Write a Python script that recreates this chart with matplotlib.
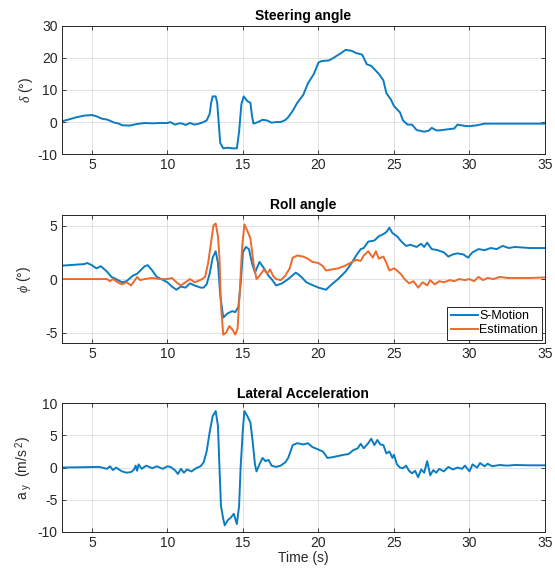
import numpy as np
import matplotlib
matplotlib.use("Agg")
import matplotlib.pyplot as plt

# ---- Steering angle ----
t_delta = [3, 4, 4.5, 5, 5.3, 5.7, 6, 6.5, 6.8, 7, 7.5, 8, 8.5, 9, 9.5, 10, 10.2, 10.5, 10.8, 11, 11.2,
           11.5, 11.8, 12, 12.3, 12.6, 12.8, 12.9, 13.0, 13.2, 13.3, 13.5, 13.7, 14.0, 14.3, 14.6, 14.75,
           14.9, 15.05, 15.3, 15.5, 15.6, 15.7, 16.0, 16.3, 16.6, 16.9, 17.2, 17.5, 17.8, 18.0, 18.3,
           18.6, 19.0, 19.3, 19.7, 20.0, 20.2, 20.7, 21.0, 21.5, 21.8, 22.2, 22.5, 22.9, 23.2, 23.5,
           24.0, 24.3, 24.5, 24.8, 25.0, 25.4, 25.6, 25.9, 26.2, 26.5, 27.0, 27.3, 27.5, 27.8, 28.0,
           28.5, 29.0, 29.2, 29.7, 30.0, 30.5, 31.0, 35]
delta = [0.2, 1.5, 2.0, 2.2, 1.8, 1.0, 0.8, -0.2, -0.5, -1.0, -1.1, -0.6, -0.3, -0.4, -0.3, -0.3, 0.0,
         -0.8, -0.4, -0.5, -0.9, -0.3, -0.8, -0.6, -0.2, 0.5, 2.5, 6.0, 8.0, 8.0, 6.0, -6.5, -8.2, -8.0,
         -8.2, -8.2, -3.0, 5.5, 8.0, 6.5, 6.0, 2.0, -0.5, 0.0, 0.7, 0.5, -0.2, 0.0, 0.0, 0.6, 1.5, 3.5,
         6.0, 8.5, 12.0, 15.0, 18.5, 19.0, 19.2, 20.0, 21.5, 22.5, 22.2, 21.5, 21.0, 18.0, 17.5, 15.0,
         13.0, 9.0, 7.0, 5.0, 3.0, 0.5, -0.8, -0.8, -2.5, -3.0, -2.7, -1.8, -2.6, -2.6, -2.3, -2.0,
         -0.8, -1.2, -1.3, -1.0, -0.5, -0.5]

# ---- Roll angle ----
t_roll_s = [3, 4.5, 4.7, 5, 5.3, 5.6, 6, 6.3, 6.6, 7, 7.3, 7.7, 8, 8.5, 8.7, 9, 9.3, 9.6, 10, 10.3, 10.6,
            10.9, 11.2, 11.5, 11.8, 12.2, 12.4, 12.6, 12.8, 13.0, 13.2, 13.35, 13.5, 13.7, 14.0, 14.3,
            14.5, 14.7, 14.85, 15.0, 15.2, 15.4, 15.6, 15.8, 16.1, 16.4, 16.7, 16.9, 17.2, 17.6, 18.0,
            18.5, 18.8, 19.2, 19.5, 20.0, 20.5, 20.8, 21.3, 21.8, 22.2, 22.5, 22.8, 23.0, 23.3, 23.7,
            24.0, 24.3, 24.5, 24.7, 24.9, 25.2, 25.5, 25.8, 26.1, 26.5, 26.8, 27.0, 27.2, 27.5, 27.9,
            28.3, 28.6, 28.9, 29.2, 29.6, 29.9, 30.2, 30.6, 31.0, 31.4, 31.8, 32.2, 32.6, 33, 34, 35]
roll_smotion = [1.25, 1.4, 1.5, 1.3, 1.0, 1.2, 0.7, 0.2, 0.0, -0.3, -0.2, 0.3, 0.5, 1.2, 1.3, 0.8,
                0.2, 0.0, -0.3, -0.7, -1.0, -0.7, -0.8, -0.4, -0.6, -0.8, -0.8, -0.5, 0.5, 2.0, 2.6,
                1.5, -1.5, -3.6, -3.2, -3.0, -3.1, -2.6, -0.5, 2.5, 3.0, 2.8, 1.5, 0.6, 1.6, 1.0, 0.3,
                0.0, -0.6, -0.4, 0.0, 0.6, 0.3, -0.3, -0.5, -0.8, -1.0, -0.6, 0.0, 0.7, 1.5, 2.2, 2.8,
                2.9, 3.5, 3.6, 4.0, 4.2, 4.4, 4.8, 4.3, 4.0, 3.5, 3.1, 3.2, 3.0, 3.3, 3.0, 3.4, 2.8,
                2.7, 2.5, 2.1, 2.3, 2.4, 2.3, 2.0, 2.5, 2.8, 2.7, 2.9, 2.8, 3.1, 2.9, 3.0, 2.9, 2.9]

t_roll_e = [3, 6, 6.2, 6.4, 6.7, 7, 7.3, 7.6, 7.8, 8, 8.2, 8.5, 9, 9.5, 10, 10.3, 10.6, 10.9, 11.2, 11.5,
            11.8, 12.0, 12.3, 12.5, 12.7, 12.9, 13.05, 13.2, 13.35, 13.45, 13.55, 13.7, 13.9, 14.1,
            14.3, 14.5, 14.65, 14.8, 14.95, 15.1, 15.3, 15.5, 15.7, 15.9, 16.1, 16.4, 16.6, 16.8, 17.0,
            17.2, 17.5, 17.8, 18.1, 18.3, 18.6, 19.0, 19.3, 19.6, 20.0, 20.3, 20.5, 20.9, 21.3, 21.7,
            22.1, 22.5, 22.8, 23.0, 23.3, 23.6, 23.8, 24.0, 24.3, 24.5, 24.7, 25.0, 25.2, 25.5, 25.7,
            26.0, 26.3, 26.6, 26.9, 27.2, 27.4, 27.7, 28.0, 28.3, 28.7, 29.0, 29.3, 29.7, 30.0, 30.3,
            30.6, 30.9, 31.2, 31.6, 32.0, 32.5, 33, 34, 35]
roll_est = [0.0, 0.0, -0.2, 0.0, -0.3, -0.5, -0.3, -0.6, -0.2, 0.2, -0.1, 0.0, 0.1, 0.0, 0.0, 0.1,
            -0.3, -0.6, -0.3, 0.0, -0.3, -0.2, 0.0, 0.2, 1.5, 3.5, 5.0, 5.2, 4.0, 2.0, -2.5, -5.2, -5.0,
            -4.4, -4.7, -5.2, -4.6, -1.0, 3.0, 5.1, 4.5, 3.8, 1.5, 0.0, 0.3, 0.9, 0.5, 0.9, 0.3, 0.0,
            -0.1, 0.3, 1.0, 2.0, 2.2, 2.1, 1.9, 1.6, 1.5, 1.2, 0.8, 0.9, 1.0, 1.2, 1.5, 1.8, 1.7, 2.2,
            2.6, 2.0, 2.6, 1.9, 2.1, 1.5, 0.8, 1.0, 0.8, 0.4, 0.0, -0.4, -0.2, -0.8, -0.3, -0.6, -0.1,
            -0.5, -0.2, -0.3, -0.1, -0.2, 0.0, -0.1, 0.0, -0.2, 0.2, -0.1, 0.1, 0.0, 0.2, 0.1, 0.1, 0.1,
            0.15]

# ---- Lateral acceleration ----
t_ay = [3, 5.5, 6, 6.2, 6.4, 6.6, 7, 7.3, 7.6, 7.8, 7.9, 8.0, 8.1, 8.3, 8.6, 9, 9.3, 9.7, 10, 10.2, 10.5,
        10.7, 10.9, 11.1, 11.3, 11.6, 11.9, 12.2, 12.4, 12.6, 12.8, 13.0, 13.2, 13.35, 13.45, 13.55,
        13.7, 13.8, 14.0, 14.2, 14.4, 14.6, 14.75, 14.85, 15.0, 15.1, 15.3, 15.5, 15.65, 15.8, 15.9,
        16.1, 16.3, 16.5, 16.7, 16.9, 17.2, 17.5, 17.8, 18.0, 18.3, 18.6, 19.0, 19.3, 19.6, 20.0, 20.3,
        20.6, 20.9, 21.3, 21.7, 22.0, 22.3, 22.6, 22.8, 23.0, 23.3, 23.5, 23.7, 23.9, 24.1, 24.3, 24.5,
        24.7, 24.9, 25.0, 25.2, 25.4, 25.6, 25.8, 26.0, 26.2, 26.4, 26.6, 26.8, 27.0, 27.2, 27.4, 27.6,
        27.8, 28.0, 28.3, 28.6, 28.9, 29.2, 29.5, 29.7, 30.0, 30.2, 30.5, 30.7, 31.0, 31.2, 31.5, 32,
        32.5, 33, 34, 35]
ay = [0.0, 0.1, -0.2, 0.2, -0.4, 0.0, -0.6, -0.8, -0.7, -0.3, 0.3, -0.5, 0.5, -0.2, 0.3, -0.1, 0.2,
      -0.2, 0.2, 0.1, -0.4, -1.0, -0.2, -0.8, -0.3, -0.6, -0.1, 0.2, 0.8, 2.5, 5.5, 8.0, 8.8, 6.5, 0.0,
      -6.0, -8.0, -9.0, -8.2, -7.8, -7.2, -8.8, -6.0, 0.0, 6.0, 8.8, 8.0, 7.0, 4.0, 0.5, -0.6, 0.5, 1.5,
      1.0, 1.2, 0.3, 0.1, 0.3, 0.8, 1.5, 3.5, 3.8, 3.6, 3.8, 3.2, 2.8, 2.5, 1.5, 1.6, 1.8, 2.0, 2.1, 2.7,
      3.0, 3.7, 3.0, 3.8, 4.5, 3.5, 4.3, 3.6, 3.5, 2.2, 2.5, 1.5, 2.0, 0.5, 0.0, -0.1, 0.3, -0.5, -0.9,
      -0.5, -1.5, -0.3, -0.8, 1.0, -1.2, -0.4, -0.8, -0.2, -0.6, 0.1, -0.3, 0.0, -0.2, 0.3, -0.6, 0.5,
      0.0, 0.7, 0.2, 0.6, 0.2, 0.4, 0.3, 0.4, 0.35, 0.35]

BLUE = "#0a7cc2"
ORANGE = "#ec6a2c"
TXT = "#262626"

plt.rcParams["font.family"] = ["Liberation Sans", "DejaVu Sans"]
plt.rcParams["axes.unicode_minus"] = False
plt.rcParams["mathtext.fontset"] = "custom"
plt.rcParams["mathtext.rm"] = "Liberation Sans"
plt.rcParams["mathtext.it"] = "Liberation Serif:italic"

FS = 10

fig = plt.figure(figsize=(5.55, 5.73), dpi=100)
L, W = 0.111, 0.871
axes = [fig.add_axes([L, 0.731, W, 0.224]),
        fig.add_axes([L, 0.401, W, 0.224]),
        fig.add_axes([L, 0.072, W, 0.224])]


def style(ax, ylim, yticks):
    ax.set_xlim(3, 35)
    ax.set_ylim(*ylim)
    ax.set_xticks([5, 10, 15, 20, 25, 30, 35])
    ax.set_yticks(yticks)
    ax.grid(True, color="#dcdcdc", linewidth=0.6)
    ax.set_axisbelow(True)
    ax.tick_params(direction="in", length=3, width=0.6, colors=TXT, labelsize=FS,
                   top=True, right=True, pad=3)
    for s in ax.spines.values():
        s.set_color(TXT)
        s.set_linewidth(0.7)


ax = axes[0]
ax.plot(t_delta, delta, color=BLUE, lw=1.4)
style(ax, (-10, 30), [-10, 0, 10, 20, 30])
ax.set_title("Steering angle", fontsize=FS, fontweight="bold", color="black", pad=4)
ax.set_ylabel(r"$\delta$ (°)", fontsize=FS, color=TXT, labelpad=2)

ax = axes[1]
ax.plot(t_roll_s, roll_smotion, color=BLUE, lw=1.4, label="S-Motion")
ax.plot(t_roll_e, roll_est, color=ORANGE, lw=1.4, label="Estimation")
style(ax, (-6, 6), [-5, 0, 5])
ax.set_title("Roll angle", fontsize=FS, fontweight="bold", color="black", pad=4)
ax.set_ylabel(r"$\phi$ (°)", fontsize=FS, color=TXT, labelpad=9)
leg = ax.legend(loc="lower right", fontsize=9, frameon=True, fancybox=False, framealpha=1,
                borderpad=0.3, handlelength=2.2, handletextpad=0.1, labelspacing=0.15,
                borderaxespad=0.25)
leg.get_frame().set_edgecolor(TXT)
leg.get_frame().set_linewidth(0.7)

ax = axes[2]
ax.plot(t_ay, ay, color=BLUE, lw=1.4)
style(ax, (-10, 10), [-10, -5, 0, 5, 10])
ax.set_title("Lateral Acceleration", fontsize=FS, fontweight="bold", color="black", pad=4)
ax.set_ylabel(r"a$_{\ \rm y}$  (m/s$^{\ 2}$)", fontsize=FS, color=TXT, labelpad=2)
ax.set_xlabel("Time (s)", fontsize=FS, color=TXT, labelpad=1)

fig.savefig("out.png", dpi=100)
